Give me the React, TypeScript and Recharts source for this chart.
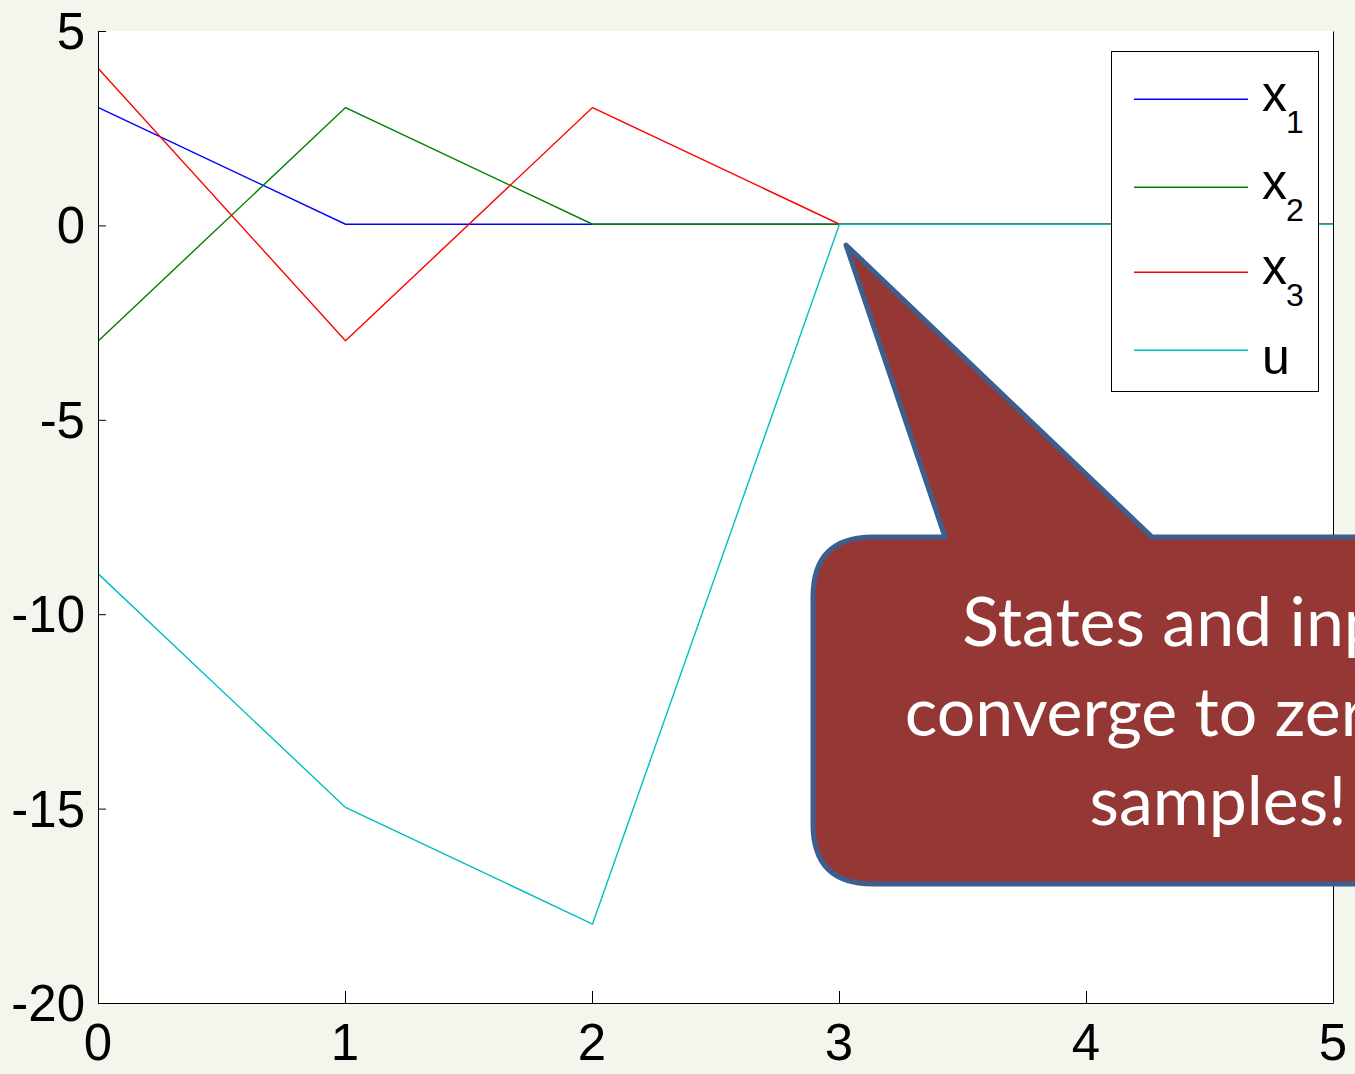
import React from 'react'
import { LineChart, Line, XAxis, YAxis, CartesianGrid, Legend } from 'recharts'

const samples = [0, 1, 2, 3, 4, 5]
const x1 = [3, 0, 0, 0, 0, 0]
const x2 = [-3, 3, 0, 0, 0, 0]
const x3 = [4, -3, 3, 0, 0, 0]
const u = [-9, -15, -18, 0, 0, 0]
const yTicks = [5, 0, -5, -10, -15, -20]

const series = [
  { key: 'x1', name: 'x', sub: '1', color: '#0000ff' },
  { key: 'x2', name: 'x', sub: '2', color: '#008000' },
  { key: 'x3', name: 'x', sub: '3', color: '#ff0000' },
  { key: 'u', name: 'u', sub: '', color: '#00bfbf' },
]

const data = samples.map((k, i) => ({ k, x1: x1[i], x2: x2[i], x3: x3[i], u: u[i] }))

const FONT = '"Liberation Sans", Arial, sans-serif'
const TICK = 8

// pixel nudges: axis box on whole pixels, data lines sit like the MATLAB export
const crisp = `
  .recharts-cartesian-axis-line { transform: translate(0.5px, 0.5px); }
  .recharts-line-curve { transform: translate(0.5px, -1.2px); }
`

const LeftTick = ({ x, y, payload }: any) => (
  <g>
    <line x1={x} x2={x + TICK} y1={y + 0.5} y2={y + 0.5} stroke="#000" />
    <text x={x - 13} y={y + 18} textAnchor="end" fontSize={51} fontFamily={FONT} fill="#000">
      {payload.value}
    </text>
  </g>
)
const RightTick = ({ x, y }: any) => <line x1={x - TICK} x2={x} y1={y + 0.5} y2={y + 0.5} stroke="#000" />
const BottomTick = ({ x, y, payload }: any) => (
  <g>
    <line x1={x + 0.5} x2={x + 0.5} y1={y} y2={y - TICK - 4} stroke="#000" />
    <text x={x} y={y + 57} textAnchor="middle" fontSize={51} fontFamily={FONT} fill="#000">
      {payload.value}
    </text>
  </g>
)
const TopTick = ({ x, y }: any) => <line x1={x + 0.5} x2={x + 0.5} y1={y} y2={y + TICK + 4} stroke="#000" />

// legend row positions (y of the sample line)
const legendRows = [99, 187, 272, 350]

const LegendBox = () => (
  <svg width={1355} height={1074} style={{ position: 'absolute', left: 0, top: 0, pointerEvents: 'none' }}>
    <rect x={1111.5} y={51.5} width={207} height={340} fill="#fff" stroke="#000" />
    {series.map((s, i) => {
      const ly = legendRows[i] + 0.2
      return (
        <g key={s.key}>
          <line x1={1134} x2={1248} y1={ly} y2={ly} stroke={s.color} strokeWidth={1.4} />
          {s.sub ? (
            <text x={1262} y={ly + 12} fontFamily={FONT} fontSize={50} fill="#000">
              {s.name}
              <tspan fontSize={32} dx={-1} dy={22}>{s.sub}</tspan>
            </text>
          ) : (
            <text x={1262} y={ly + 24} fontFamily={FONT} fontSize={50} fill="#000">{s.name}</text>
          )}
        </g>
      )
    })}
  </svg>
)

const Callout = () => (
  <svg width={1355} height={1074} style={{ position: 'absolute', left: 0, top: 0, pointerEvents: 'none' }}>
    <path
      d="M 873 537 L 945 537 L 846 245 L 1152 537 L 1620 537 L 1620 884 L 873 884 Q 813 884 813 824 L 813 597 Q 813 537 873 537 Z"
      fill="#953735"
      stroke="#3c5f8e"
      strokeWidth={5}
      strokeLinejoin="round"
    />
    <text fill="#fff" fontFamily="Lato, 'Open Sans', sans-serif" fontSize={68} textAnchor="middle">
      <tspan x={1218} y={646}>States and inputs</tspan>
      <tspan x={1218} y={736}>converge to zero in 3</tspan>
      <tspan x={1218} y={825}>samples!</tspan>
    </text>
  </svg>
)

export default function App() {
  return (
    <div style={{ position: 'absolute', left: 0, top: 0, width: 1355, height: 1074, overflow: 'hidden', background: '#f3f6ed' }}>
      <style>{crisp}</style>
      <LineChart width={1355} height={1074} data={data} margin={{ top: 31, right: 0, bottom: 0, left: 0 }}>
        <CartesianGrid horizontal={false} vertical={false} fill="#fff" />
        <XAxis xAxisId="b" dataKey="k" type="number" domain={[0, 5]} ticks={samples} height={71}
          axisLine={{ stroke: '#000' }} tickLine={false} tickSize={0} tickMargin={0} tick={<BottomTick />} interval={0} />
        <XAxis xAxisId="t" dataKey="k" type="number" domain={[0, 5]} ticks={samples} orientation="top" height={0}
          axisLine={{ stroke: '#333' }} tickLine={false} tickSize={0} tickMargin={0} tick={<TopTick />} interval={0} />
        <YAxis yAxisId="l" type="number" domain={[-20, 5]} ticks={yTicks} width={98}
          axisLine={{ stroke: '#000' }} tickLine={false} tickSize={0} tickMargin={0} tick={<LeftTick />} interval={0} />
        <YAxis yAxisId="r" type="number" domain={[-20, 5]} ticks={yTicks} width={22} orientation="right"
          axisLine={{ stroke: '#000' }} tickLine={false} tickSize={0} tickMargin={0} tick={<RightTick />} interval={0} />
        {series.map((s) => (
          <Line key={s.key} xAxisId="b" yAxisId="l" dataKey={s.key} type="linear" stroke={s.color}
            strokeWidth={1.4} dot={false} activeDot={false} isAnimationActive={false} />
        ))}
        <Legend content={() => null} />
      </LineChart>
      <LegendBox />
      <Callout />
    </div>
  )
}
